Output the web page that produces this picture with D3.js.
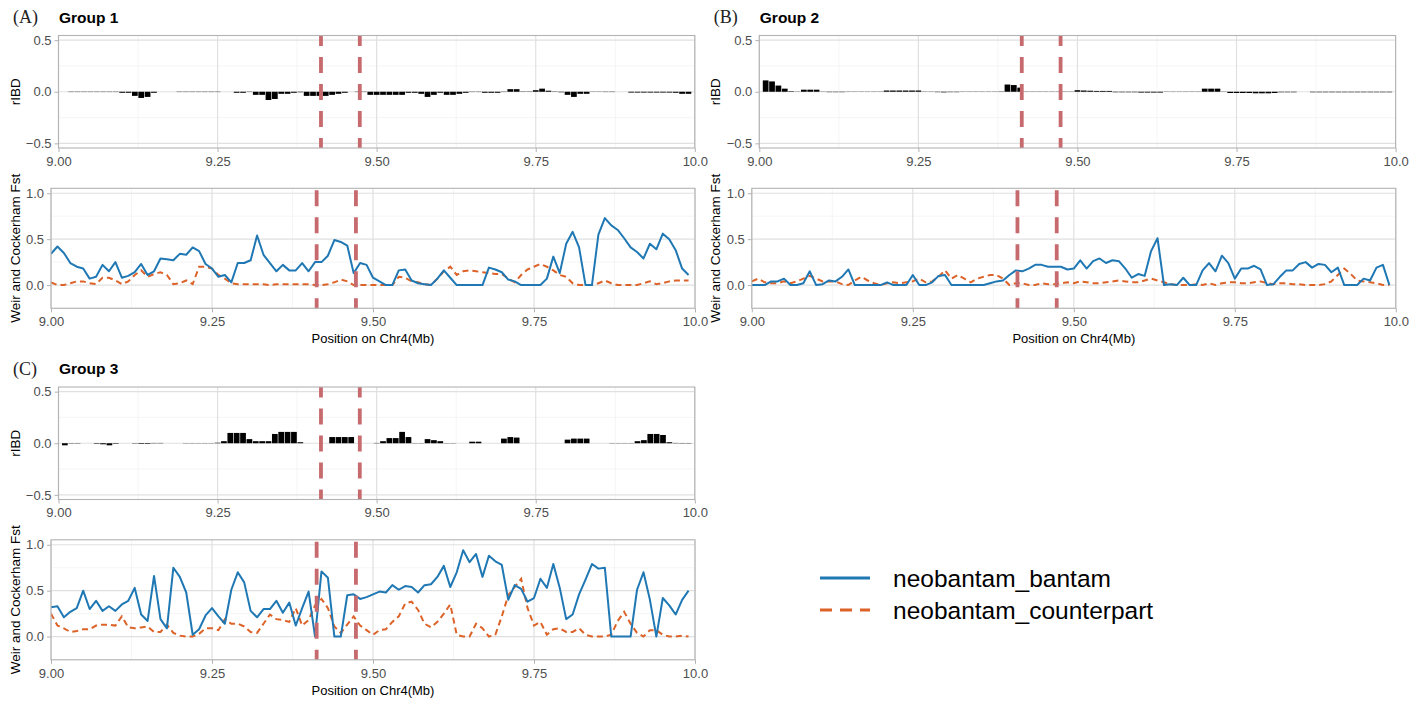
<!DOCTYPE html>
<html>
<head>
<meta charset="utf-8">
<script src="https://cdn.jsdelivr.net/npm/d3@7/dist/d3.min.js"></script>
<style>
  body { margin: 0; background: #fff; }
  text { font-family: "Liberation Sans", Arial, sans-serif; }
</style>
</head>
<body>
<div id="chart"></div>
<script>
// Window positions (Mb) shared by every series
const positions = [
  9.00, 9.01, 9.02, 9.03, 9.04, 9.05, 9.06, 9.07, 9.08, 9.09,
  9.10, 9.11, 9.12, 9.13, 9.14, 9.15, 9.16, 9.17, 9.18, 9.19,
  9.20, 9.21, 9.22, 9.23, 9.24, 9.25, 9.26, 9.27, 9.28, 9.29,
  9.30, 9.31, 9.32, 9.33, 9.34, 9.35, 9.36, 9.37, 9.38, 9.39,
  9.40, 9.41, 9.42, 9.43, 9.44, 9.45, 9.46, 9.47, 9.48, 9.49,
  9.50, 9.51, 9.52, 9.53, 9.54, 9.55, 9.56, 9.57, 9.58, 9.59,
  9.60, 9.61, 9.62, 9.63, 9.64, 9.65, 9.66, 9.67, 9.68, 9.69,
  9.70, 9.71, 9.72, 9.73, 9.74, 9.75, 9.76, 9.77, 9.78, 9.79,
  9.80, 9.81, 9.82, 9.83, 9.84, 9.85, 9.86, 9.87, 9.88, 9.89,
  9.90, 9.91, 9.92, 9.93, 9.94, 9.95, 9.96, 9.97, 9.98, 9.99
];

const xTickValues = [9.00, 9.25, 9.50, 9.75, 10.0];
const xTickLabels = ["9.00", "9.25", "9.50", "9.75", "10.0"];
const rIbdTicks = [-0.5, 0, 0.5];
const fstTicks = [0, 0.5, 1.0];
const markerLines = [9.4125, 9.4735];

const panelLetters = ["(A)", "(B)", "(C)"];
const groupNames = ["Group 1", "Group 2", "Group 3"];
const seriesNames = ["neobantam_bantam", "neobantam_counterpart"];

// rIBD per window (null = no value)
const rIbd1 = [
  null, null, -0.003, -0.003, -0.003, -0.003, -0.003, -0.003, -0.003, -0.003,
  -0.01, -0.01, -0.04, -0.06, -0.05, -0.01, null, null, null, -0.003,
  -0.003, -0.003, -0.003, -0.003, -0.003, -0.003, null, null, -0.01, -0.01,
  -0.003, -0.03, -0.03, -0.08, -0.07, -0.02, -0.02, -0.01, -0.005, -0.04,
  -0.04, -0.04, -0.04, -0.03, -0.02, -0.01, null, -0.003, -0.003, -0.03,
  -0.03, -0.03, -0.03, -0.03, -0.03, -0.01, -0.01, -0.02, -0.05, -0.03,
  -0.01, -0.03, -0.03, -0.02, -0.01, -0.003, -0.003, -0.01, -0.01, -0.01,
  -0.003, 0.025, 0.025, 0.003, 0.003, 0.015, 0.03, 0.01, 0.003, -0.005,
  -0.03, -0.05, -0.02, -0.02, -0.002, -0.002, -0.003, -0.003, null, null,
  -0.008, -0.008, -0.008, -0.008, -0.008, -0.008, -0.008, -0.01, -0.02, -0.02
];
const rIbd2 = [
  null, 0.11, 0.10, 0.06, 0.03, 0.005, 0.002, 0.02, 0.02, 0.02,
  0.002, -0.004, -0.004, -0.004, -0.002, -0.002, -0.002, -0.002, -0.002, -0.002,
  0.012, 0.012, 0.012, 0.012, 0.012, 0.012, 0.002, 0.002, -0.004, -0.006,
  -0.004, -0.004, -0.002, -0.002, -0.002, -0.002, -0.002, -0.002, 0.003, 0.07,
  0.065, 0.04, -0.002, -0.002, -0.002, -0.002, -0.002, -0.002, 0.002, 0.002,
  0.015, 0.012, 0.01, 0.008, 0.008, 0.008, -0.005, -0.005, -0.005, -0.005,
  -0.008, -0.008, -0.008, -0.008, -0.002, -0.002, -0.002, -0.002, -0.002, -0.002,
  0.03, 0.03, 0.03, 0.002, -0.012, -0.012, -0.012, -0.012, -0.015, -0.015,
  -0.015, -0.012, -0.005, -0.005, -0.005, null, null, -0.005, -0.005, -0.005,
  -0.005, -0.005, -0.005, -0.005, -0.005, -0.005, -0.005, -0.005, -0.005, -0.005
];
const rIbd3 = [
  null, -0.02, -0.003, -0.003, null, null, -0.005, -0.01, -0.02, -0.005,
  null, null, -0.003, -0.006, -0.006, 0.003, 0.003, null, null, null,
  -0.002, -0.002, -0.002, -0.002, -0.002, 0.005, 0.02, 0.10, 0.10, 0.10,
  0.04, 0.02, 0.02, 0.02, 0.09, 0.11, 0.11, 0.11, 0.01, null,
  null, null, null, 0.06, 0.06, 0.06, 0.06, null, null, null,
  0.003, 0.02, 0.05, 0.05, 0.11, 0.06, 0.002, 0.002, 0.04, 0.03,
  0.02, -0.002, -0.002, null, null, 0.015, 0.015, null, null, null,
  0.045, 0.06, 0.055, null, null, null, null, null, null, null,
  0.035, 0.045, 0.045, 0.045, null, null, null, -0.002, -0.002, -0.002,
  -0.002, 0.02, 0.03, 0.09, 0.09, 0.08, 0.01, 0.003, -0.003, -0.003
];

// Weir and Cockerham Fst, neobantam vs bantam
const fstBantam1 = [
  0.34, 0.42, 0.35, 0.24, 0.20, 0.18, 0.07, 0.09, 0.22, 0.15,
  0.25, 0.08, 0.10, 0.14, 0.23, 0.11, 0.15, 0.29, 0.28, 0.27,
  0.34, 0.33, 0.41, 0.37, 0.23, 0.18, 0.09, 0.11, 0.03, 0.24,
  0.24, 0.27, 0.54, 0.33, 0.24, 0.15, 0.22, 0.16, 0.16, 0.24,
  0.15, 0.25, 0.25, 0.32, 0.49, 0.47, 0.43, 0.13, 0.24, 0.22,
  0.08, 0.04, 0.00, 0.00, 0.16, 0.17, 0.05, 0.02, 0.01, 0.00,
  0.07, 0.16, 0.08, 0.00, 0.00, 0.00, 0.00, 0.00, 0.19, 0.17,
  0.14, 0.06, 0.04, 0.00, 0.00, 0.00, 0.00, 0.07, 0.31, 0.13,
  0.45, 0.58, 0.41, 0.00, 0.00, 0.55, 0.73, 0.65, 0.60, 0.51,
  0.41, 0.36, 0.29, 0.45, 0.39, 0.56, 0.50, 0.38, 0.18, 0.11
];
const fstBantam2 = [
  0.00, 0.00, 0.00, 0.04, 0.04, 0.07, 0.00, 0.00, 0.02, 0.15,
  0.00, 0.01, 0.05, 0.04, 0.09, 0.17, 0.00, 0.00, 0.00, 0.00,
  0.00, 0.03, 0.00, 0.00, 0.00, 0.11, 0.00, 0.00, 0.03, 0.10,
  0.11, 0.00, 0.00, 0.00, 0.00, 0.00, 0.00, 0.02, 0.04, 0.05,
  0.11, 0.16, 0.15, 0.18, 0.22, 0.22, 0.20, 0.20, 0.20, 0.17,
  0.18, 0.27, 0.18, 0.26, 0.29, 0.24, 0.27, 0.26, 0.18, 0.08,
  0.12, 0.10, 0.37, 0.51, 0.00, 0.01, 0.00, 0.08, 0.00, 0.00,
  0.16, 0.24, 0.15, 0.32, 0.24, 0.07, 0.18, 0.18, 0.21, 0.17,
  0.00, 0.01, 0.09, 0.16, 0.16, 0.23, 0.25, 0.19, 0.23, 0.22,
  0.14, 0.19, 0.00, 0.00, 0.00, 0.07, 0.05, 0.19, 0.22, 0.00
];
const fstBantam3 = [
  0.32, 0.33, 0.21, 0.27, 0.31, 0.50, 0.30, 0.39, 0.28, 0.33,
  0.28, 0.35, 0.39, 0.53, 0.24, 0.17, 0.66, 0.19, 0.09, 0.75,
  0.65, 0.48, 0.02, 0.08, 0.23, 0.31, 0.22, 0.14, 0.51, 0.70,
  0.59, 0.28, 0.21, 0.30, 0.30, 0.39, 0.26, 0.37, 0.12, 0.31,
  0.49, 0.00, 0.71, 0.64, 0.00, 0.00, 0.45, 0.46, 0.41, 0.43,
  0.46, 0.49, 0.48, 0.56, 0.51, 0.55, 0.54, 0.48, 0.56, 0.57,
  0.65, 0.77, 0.54, 0.70, 0.94, 0.81, 0.90, 0.65, 0.88, 0.82,
  0.78, 0.40, 0.56, 0.52, 0.38, 0.42, 0.63, 0.53, 0.79, 0.53,
  0.19, 0.24, 0.46, 0.62, 0.79, 0.74, 0.75, 0.00, 0.00, 0.00,
  0.00, 0.51, 0.70, 0.40, 0.00, 0.42, 0.34, 0.24, 0.40, 0.50
];

// Weir and Cockerham Fst, neobantam vs counterpart
const fstCounter1 = [
  0.03, 0.00, 0.00, 0.02, 0.04, 0.04, 0.02, 0.01, 0.08, 0.08,
  0.05, 0.01, 0.04, 0.11, 0.16, 0.09, 0.12, 0.14, 0.11, 0.01,
  0.02, 0.05, 0.01, 0.20, 0.20, 0.18, 0.11, 0.07, 0.02, 0.01,
  0.01, 0.01, 0.01, 0.01, 0.00, 0.01, 0.01, 0.01, 0.01, 0.01,
  0.01, 0.00, 0.00, 0.01, 0.03, 0.06, 0.04, 0.00, 0.00, 0.00,
  0.00, 0.00, 0.00, 0.00, 0.09, 0.08, 0.04, 0.03, 0.01, 0.00,
  0.07, 0.15, 0.20, 0.11, 0.15, 0.16, 0.15, 0.14, 0.13, 0.12,
  0.12, 0.07, 0.03, 0.11, 0.17, 0.20, 0.23, 0.20, 0.16, 0.11,
  0.09, 0.02, 0.00, 0.00, 0.00, 0.02, 0.05, 0.02, 0.00, 0.00,
  0.00, 0.00, 0.02, 0.04, 0.01, 0.02, 0.04, 0.05, 0.05, 0.05
];
const fstCounter2 = [
  0.04, 0.07, 0.03, 0.02, 0.02, 0.04, 0.02, 0.04, 0.07, 0.10,
  0.07, 0.04, 0.04, 0.04, 0.01, 0.00, 0.05, 0.09, 0.05, 0.02,
  0.00, 0.02, 0.03, 0.02, 0.03, 0.04, 0.07, 0.03, 0.04, 0.09,
  0.16, 0.07, 0.11, 0.07, 0.03, 0.07, 0.09, 0.11, 0.11, 0.07,
  0.00, 0.02, 0.02, 0.00, 0.00, 0.02, 0.01, 0.01, 0.02, 0.03,
  0.02, 0.04, 0.03, 0.02, 0.02, 0.03, 0.04, 0.05, 0.04, 0.03,
  0.03, 0.05, 0.07, 0.05, 0.03, 0.01, 0.00, 0.00, 0.00, 0.01,
  0.00, 0.02, 0.00, 0.02, 0.03, 0.03, 0.02, 0.02, 0.03, 0.04,
  0.02, 0.01, 0.02, 0.02, 0.01, 0.01, 0.00, 0.00, 0.00, 0.01,
  0.04, 0.11, 0.18, 0.12, 0.05, 0.04, 0.03, 0.02, 0.00, 0.00
];
const fstCounter3 = [
  0.25, 0.12, 0.09, 0.05, 0.06, 0.08, 0.08, 0.12, 0.13, 0.13,
  0.12, 0.22, 0.10, 0.09, 0.10, 0.11, 0.05, 0.05, 0.13, 0.04,
  0.01, 0.00, 0.00, 0.03, 0.09, 0.09, 0.07, 0.19, 0.14, 0.14,
  0.11, 0.05, 0.04, 0.14, 0.24, 0.19, 0.18, 0.16, 0.31, 0.12,
  0.18, 0.34, 0.41, 0.31, 0.11, 0.04, 0.13, 0.22, 0.12, 0.07,
  0.02, 0.07, 0.08, 0.16, 0.22, 0.36, 0.38, 0.29, 0.14, 0.10,
  0.16, 0.25, 0.35, 0.02, 0.00, 0.00, 0.14, 0.09, 0.00, 0.02,
  0.22, 0.45, 0.54, 0.63, 0.31, 0.12, 0.16, 0.02, 0.08, 0.09,
  0.05, 0.05, 0.09, 0.02, 0.00, 0.00, 0.00, 0.02, 0.17, 0.27,
  0.14, 0.04, 0.00, 0.07, 0.07, 0.02, 0.00, 0.00, 0.01, 0.00
];

const groups = [
  { letter: panelLetters[0], name: groupNames[0], ibd: rIbd1, bantam: fstBantam1, counter: fstCounter1, origin: [0, 0] },
  { letter: panelLetters[1], name: groupNames[1], ibd: rIbd2, bantam: fstBantam2, counter: fstCounter2, origin: [700.8, 0] },
  { letter: panelLetters[2], name: groupNames[2], ibd: rIbd3, bantam: fstBantam3, counter: fstCounter3, origin: [0, 351.5] }
];

// Layout
const width = 1424, height = 704;
const ibdBox = { left: 58.5, right: 694.8, top: 35.5, bottom: 148 };
const fstBox = { left: 51, right: 695, top: 188.3, bottom: 308.3 };
const colBantam = "#1f78b4";
const colCounter = "#dc6228";
const colMarker = "#c66a6e";
const colBorder = "#b3b3b3";
const colGridMajor = "#e0e0e0";
const colGridMinor = "#f0f0f0";
const colTickText = "#4d4d4d";
const barHalf = 0.0045;

const svg = d3.select("#chart").append("svg")
  .attr("width", width)
  .attr("height", height);
svg.append("rect").attr("width", width).attr("height", height).attr("fill", "#fff");

const midpoints = arr => d3.pairs(arr).map(([a, b]) => (a + b) / 2);
let clipId = 0;

function panelFrame(g, box, x, y, yTicks, yMinor) {
  const id = "clip" + (clipId++);
  g.append("clipPath").attr("id", id)
    .append("rect")
    .attr("x", box.left).attr("y", box.top)
    .attr("width", box.right - box.left).attr("height", box.bottom - box.top);

  const grid = g.append("g");
  // minor grid
  grid.selectAll(".ymin").data(yMinor.filter(v => y(v) >= box.top && y(v) <= box.bottom))
    .enter().append("line")
    .attr("x1", box.left).attr("x2", box.right)
    .attr("y1", d => y(d)).attr("y2", d => y(d))
    .attr("stroke", colGridMinor).attr("stroke-width", 0.7);
  grid.selectAll(".xmin").data(midpoints(xTickValues))
    .enter().append("line")
    .attr("x1", d => x(d)).attr("x2", d => x(d))
    .attr("y1", box.top).attr("y2", box.bottom)
    .attr("stroke", colGridMinor).attr("stroke-width", 0.7);
  // major grid
  grid.selectAll(".ymaj").data(yTicks)
    .enter().append("line")
    .attr("x1", box.left).attr("x2", box.right)
    .attr("y1", d => y(d)).attr("y2", d => y(d))
    .attr("stroke", colGridMajor).attr("stroke-width", 1.2);
  grid.selectAll(".xmaj").data(xTickValues)
    .enter().append("line")
    .attr("x1", d => x(d)).attr("x2", d => x(d))
    .attr("y1", box.top).attr("y2", box.bottom)
    .attr("stroke", colGridMajor).attr("stroke-width", 1.2);

  // axes
  const yAxis = g.append("g")
    .attr("transform", `translate(${box.left},0)`)
    .call(d3.axisLeft(y).tickValues(yTicks).tickSize(4).tickPadding(3).tickFormat(d3.format(".1f")));
  const xAxis = g.append("g")
    .attr("transform", `translate(0,${box.bottom})`)
    .call(d3.axisBottom(x).tickValues(xTickValues).tickSize(4).tickPadding(4.5)
      .tickFormat((d, i) => xTickLabels[i]));
  [yAxis, xAxis].forEach(a => {
    a.select(".domain").remove();
    a.selectAll(".tick line").attr("stroke", colBorder);
    a.selectAll(".tick text")
      .attr("fill", colTickText)
      .style("font-size", "13px")
      .style("font-family", "'Liberation Sans', Arial, sans-serif");
  });

  return id;
}

function markers(g, box, x, clip) {
  g.append("g").attr("clip-path", `url(#${clip})`)
    .selectAll("line").data(markerLines).enter().append("line")
    .attr("x1", d => x(d)).attr("x2", d => x(d))
    .attr("y1", box.bottom + 6).attr("y2", box.top - 4)
    .attr("stroke", colMarker)
    .attr("stroke-width", 3.8)
    .attr("stroke-dasharray", "16,11");
}

function border(g, box) {
  g.append("rect")
    .attr("x", box.left).attr("y", box.top)
    .attr("width", box.right - box.left).attr("height", box.bottom - box.top)
    .attr("fill", "none").attr("stroke", colBorder).attr("stroke-width", 1.1);
}

function drawGroup(grp) {
  const g = svg.append("g").attr("transform", `translate(${grp.origin[0]},${grp.origin[1]})`);

  // titles
  g.append("text").attr("x", 13).attr("y", 23)
    .style("font-family", "'Liberation Serif', 'Times New Roman', serif")
    .style("font-size", "18px").attr("fill", "#222")
    .text(grp.letter);
  g.append("text").attr("x", 59).attr("y", 22.5)
    .style("font-size", "15.5px").style("font-weight", "bold").attr("fill", "#000")
    .text(grp.name);

  // ---- rIBD panel ----
  const xI = d3.scaleLinear().domain([9, 10]).range([ibdBox.left, ibdBox.right]);
  const yI = d3.scaleLinear().domain([-0.545, 0.545]).range([ibdBox.bottom, ibdBox.top]);
  const clipI = panelFrame(g, ibdBox, xI, yI, rIbdTicks, midpoints(rIbdTicks));

  const bars = positions.map((p, i) => ({ p, v: grp.ibd[i] })).filter(d => d.v !== null);
  g.append("g").attr("clip-path", `url(#${clipI})`)
    .selectAll("rect").data(bars).enter().append("rect")
    .attr("x", d => xI(d.p - barHalf))
    .attr("width", d => xI(d.p + barHalf) - xI(d.p - barHalf))
    .attr("y", d => yI(Math.max(0, d.v)))
    .attr("height", d => Math.abs(yI(d.v) - yI(0)))
    .attr("fill", "#000");
  markers(g, ibdBox, xI, clipI);
  border(g, ibdBox);

  g.append("text")
    .attr("transform", `translate(19.5,${(ibdBox.top + ibdBox.bottom) / 2}) rotate(-90)`)
    .attr("text-anchor", "middle").style("font-size", "13.5px").attr("fill", "#000")
    .text("rIBD");

  // ---- Fst panel ----
  const xF = d3.scaleLinear().domain([9, 10]).range([fstBox.left, fstBox.right]);
  const yF = d3.scaleLinear().domain([-0.253, 1.054]).range([fstBox.bottom, fstBox.top]);
  const fstMinor = [-0.25].concat(midpoints(fstTicks));
  const clipF = panelFrame(g, fstBox, xF, yF, fstTicks, fstMinor);

  const line = d3.line().x((d, i) => xF(positions[i])).y(d => yF(d));
  const lines = g.append("g").attr("clip-path", `url(#${clipF})`);
  lines.append("path").datum(grp.counter)
    .attr("d", line).attr("fill", "none")
    .attr("stroke", colCounter).attr("stroke-width", 2)
    .attr("stroke-dasharray", "6,4");
  lines.append("path").datum(grp.bantam)
    .attr("d", line).attr("fill", "none")
    .attr("stroke", colBantam).attr("stroke-width", 2)
    .attr("stroke-linejoin", "round");
  markers(g, fstBox, xF, clipF);
  border(g, fstBox);

  g.append("text")
    .attr("transform", `translate(19.5,${(fstBox.top + fstBox.bottom) / 2}) rotate(-90)`)
    .attr("text-anchor", "middle").style("font-size", "13.5px").attr("fill", "#000")
    .text("Weir and Cockerham Fst");
  g.append("text")
    .attr("x", (fstBox.left + fstBox.right) / 2).attr("y", 343)
    .attr("text-anchor", "middle").style("font-size", "13px").attr("fill", "#000")
    .text("Position on Chr4(Mb)");
}

groups.forEach(drawGroup);

// Legend
const legend = svg.append("g").attr("transform", "translate(820,578)");
[{ name: seriesNames[0], color: colBantam, dash: null },
 { name: seriesNames[1], color: colCounter, dash: "12,8" }].forEach((s, i) => {
  const row = legend.append("g").attr("transform", `translate(0,${i * 32})`);
  row.append("line").attr("x1", 0).attr("x2", 50).attr("y1", 0).attr("y2", 0)
    .attr("stroke", s.color).attr("stroke-width", 3)
    .attr("stroke-dasharray", s.dash);
  row.append("text").attr("x", 73).attr("y", 9)
    .style("font-size", "24.5px").attr("fill", "#000")
    .text(s.name);
});
</script>
</body>
</html>
